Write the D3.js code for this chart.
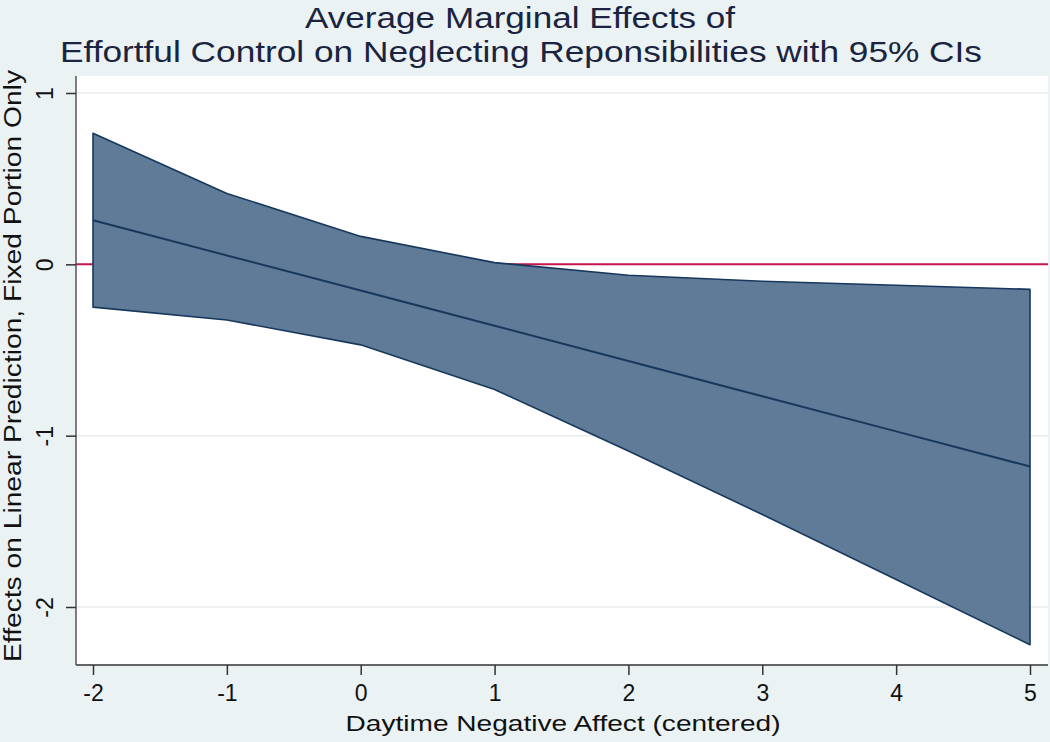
<!DOCTYPE html>
<html><head><meta charset="utf-8">
<script src="https://cdn.jsdelivr.net/npm/d3@7"></script>
<style>body{margin:0;background:#eaf2f3;} svg{display:block;}</style>
</head><body>
<script>
const xValues = [-2, -1, 0, 1, 2, 3, 4, 5];
const estimate = [0.257, 0.052, -0.153, -0.358, -0.564, -0.770, -0.975, -1.180];
const upperCI = [0.765, 0.414, 0.163, 0.010, -0.064, -0.099, -0.122, -0.146];
const lowerCI = [-0.250, -0.325, -0.470, -0.730, -1.090, -1.460, -1.840, -2.220];
const xTicks = [-2, -1, 0, 1, 2, 3, 4, 5];
const yTicks = [1, 0, -1, -2];
const titleLines = ["Average Marginal Effects of", "Effortful Control on Neglecting Reponsibilities with 95% CIs"];
const xTitle = "Daytime Negative Affect (centered)";
const yTitle = "Effects on Linear Prediction, Fixed Portion Only";

const W = 1050, H = 742;
const plot = {left: 76, right: 1048, top: 76, bottom: 665};
const svg = d3.select("body").append("svg").attr("width", W).attr("height", H);
svg.append("rect").attr("width", W).attr("height", H).attr("fill", "#eaf2f3");
svg.append("rect").attr("x", plot.left).attr("y", plot.top)
  .attr("width", plot.right - plot.left).attr("height", plot.bottom - plot.top).attr("fill", "#ffffff");

const x = d3.scaleLinear().domain([-2, 5]).range([93, 1030]);
const y = d3.scaleLinear().domain([1, -2]).range([93, 607]);
const font = "'Liberation Sans', Arial, Helvetica, sans-serif";
const fmt = d => String(d); // hyphen-minus like the reference

// gridlines
svg.append("g").selectAll("line").data(yTicks).join("line")
  .attr("x1", plot.left).attr("x2", plot.right)
  .attr("y1", d => y(d)).attr("y2", d => y(d))
  .attr("stroke", "#e8ecec").attr("stroke-width", 1.5);

// reference line at 0
svg.append("line").attr("x1", plot.left).attr("x2", plot.right)
  .attr("y1", y(0)).attr("y2", y(0)).attr("stroke", "#c4164c").attr("stroke-width", 2);

const data = xValues.map((v, i) => ({x: v, est: estimate[i], lo: lowerCI[i], hi: upperCI[i]}));
const area = d3.area().x(d => x(d.x)).y0(d => y(d.lo)).y1(d => y(d.hi));
svg.append("path").attr("d", area(data) + "Z")
  .attr("fill", "#5f7b97").attr("stroke", "#17385c").attr("stroke-width", 1.6)
  .attr("stroke-linejoin", "round");

const line = d3.line().x(d => x(d.x)).y(d => y(d.est));
svg.append("path").datum(data).attr("d", line).attr("fill", "none")
  .attr("stroke", "#17385c").attr("stroke-width", 2);

// axes
const xAxis = svg.append("g").attr("transform", `translate(0,${plot.bottom})`)
  .call(d3.axisBottom(x).tickValues(xTicks).tickSize(10).tickFormat(fmt));
xAxis.select(".domain").attr("d", `M${plot.left},0H${plot.right}`).attr("stroke", "#333").attr("stroke-width", 1.5);
xAxis.selectAll(".tick line").attr("stroke", "#333").attr("stroke-width", 1.5);
xAxis.selectAll(".tick text").attr("font-family", font).attr("font-size", 23).attr("fill", "#111")
  .attr("y", 36).attr("dy", null);

const yAxis = svg.append("g").attr("transform", `translate(${plot.left},0)`)
  .call(d3.axisLeft(y).tickValues(yTicks).tickSize(10).tickFormat(fmt));
yAxis.select(".domain").attr("d", `M0,${plot.top}V${plot.bottom}`).attr("stroke", "#555").attr("stroke-width", 1.5);
yAxis.selectAll(".tick line").attr("stroke", "#333").attr("stroke-width", 1.5);
yAxis.selectAll(".tick text").attr("font-family", font).attr("font-size", 23).attr("fill", "#111")
  .attr("x", 0).attr("y", 0).attr("dy", null).attr("text-anchor", "middle")
  .attr("transform", "translate(-23,0) rotate(-90)");

// titles
svg.append("text").attr("x", 520).attr("y", 28).attr("text-anchor", "middle")
  .attr("font-family", font).attr("font-size", 30).attr("fill", "#1a2440")
  .attr("textLength", 430).attr("lengthAdjust", "spacingAndGlyphs").text(titleLines[0]);
svg.append("text").attr("x", 521).attr("y", 62).attr("text-anchor", "middle")
  .attr("font-family", font).attr("font-size", 30).attr("fill", "#1a2440")
  .attr("textLength", 922).attr("lengthAdjust", "spacingAndGlyphs").text(titleLines[1]);
svg.append("text").attr("x", 563).attr("y", 731).attr("text-anchor", "middle")
  .attr("font-family", font).attr("font-size", 22).attr("fill", "#111")
  .attr("textLength", 435).attr("lengthAdjust", "spacingAndGlyphs").text(xTitle);
svg.append("text").attr("transform", "translate(21,366) rotate(-90)").attr("text-anchor", "middle")
  .attr("font-family", font).attr("font-size", 23).attr("fill", "#111")
  .attr("textLength", 592).attr("lengthAdjust", "spacingAndGlyphs").text(yTitle);
</script>
</body></html>
